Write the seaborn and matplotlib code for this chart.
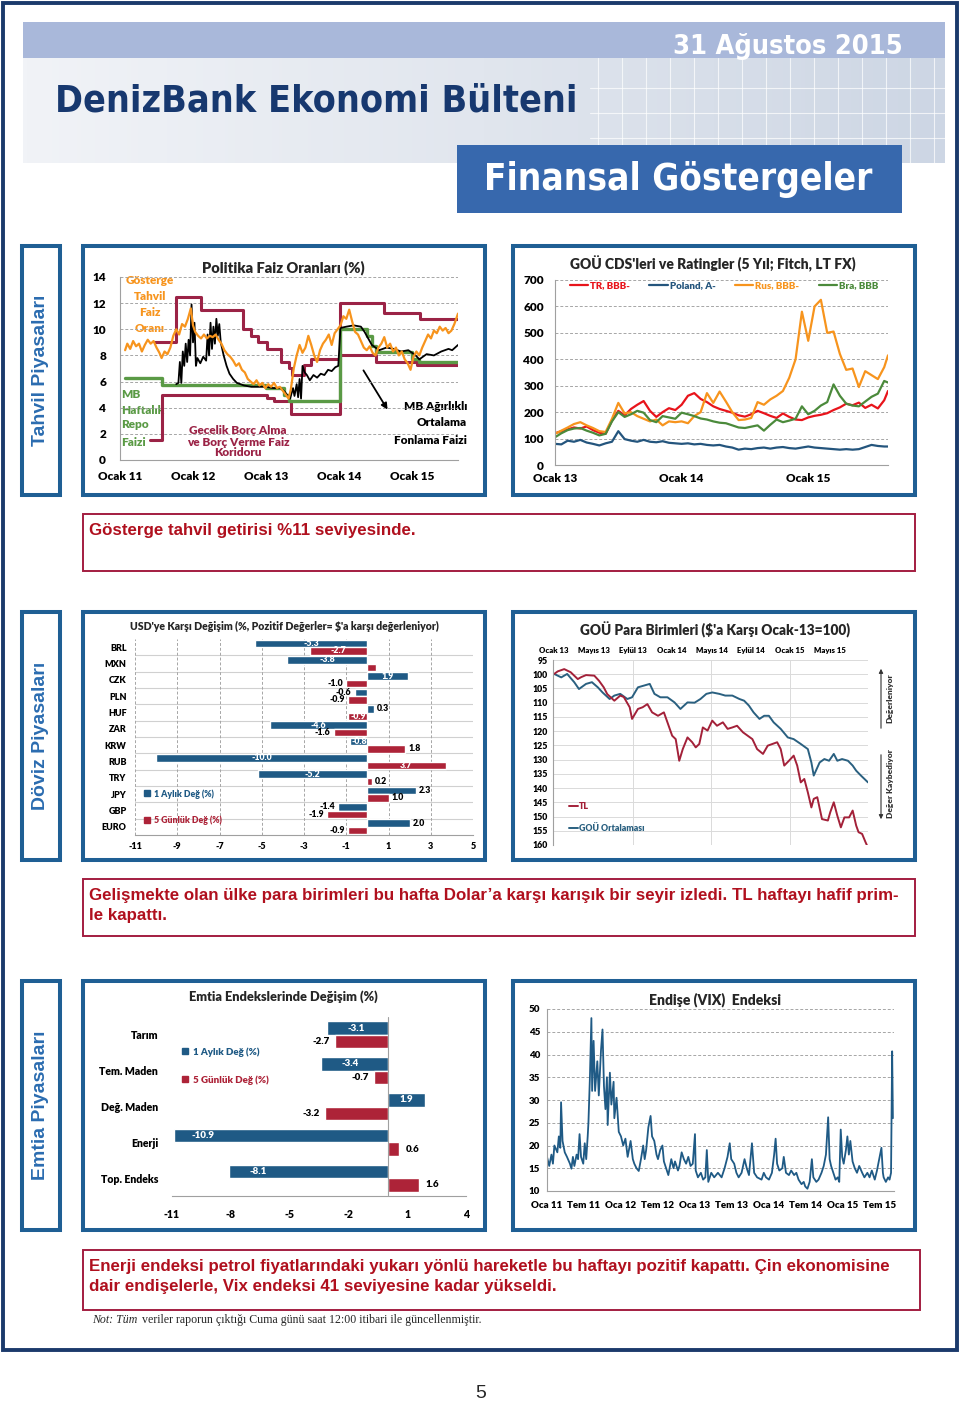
"""DenizBank Ekonomi Bülteni - Finansal Göstergeler page, rebuilt with seaborn."""

import matplotlib
matplotlib.use("Agg")
import matplotlib.pyplot as plt
import numpy as np
import pandas as pd
import seaborn as sns
from matplotlib.colors import LinearSegmentedColormap
from matplotlib.lines import Line2D
from matplotlib.patches import FancyArrowPatch, Rectangle

# ---------------- Politika Faiz Oranları (%) ----------------
BOND_X = [2011.07, 2011.10, 2011.14, 2011.18, 2011.22, 2011.26, 2011.30, 2011.34, 2011.38, 2011.42,
          2011.46, 2011.50, 2011.54, 2011.57, 2011.61, 2011.65, 2011.69, 2011.73, 2011.77, 2011.81,
          2011.85, 2011.89, 2011.93, 2011.97, 2012.00, 2012.03, 2012.07, 2012.11, 2012.15, 2012.19,
          2012.23, 2012.27, 2012.31, 2012.35, 2012.39, 2012.43, 2012.47, 2012.51, 2012.55, 2012.59,
          2012.63, 2012.67, 2012.71, 2012.75, 2012.79, 2012.83, 2012.87, 2012.91, 2012.95, 2012.99,
          2013.03, 2013.07, 2013.11, 2013.15, 2013.19, 2013.23, 2013.27, 2013.31, 2013.34, 2013.38,
          2013.42, 2013.46, 2013.50, 2013.54, 2013.58, 2013.62, 2013.66, 2013.70, 2013.74, 2013.78,
          2013.82, 2013.86, 2013.90, 2013.94, 2013.98, 2014.02, 2014.06, 2014.10, 2014.14, 2014.18,
          2014.22, 2014.26, 2014.30, 2014.34, 2014.38, 2014.42, 2014.46, 2014.50, 2014.54, 2014.58,
          2014.62, 2014.66, 2014.70, 2014.74, 2014.78, 2014.82, 2014.86, 2014.90, 2014.94, 2014.98,
          2015.02, 2015.06, 2015.10, 2015.14, 2015.18, 2015.22, 2015.26, 2015.30, 2015.34, 2015.38,
          2015.42, 2015.46, 2015.50, 2015.54, 2015.58, 2015.63]
BOND_Y = [8.4, 8.9, 8.5, 9.1, 8.7, 8.9, 8.3, 8.8, 9.2, 8.9,
          9.1, 8.6, 8.2, 7.8, 8.3, 8.1, 8.6, 9.5, 10.0, 9.6,
          10.4, 10.2, 10.8, 11.6, 10.3, 9.8, 9.5, 9.3, 9.6, 9.3,
          9.5, 9.4, 9.6, 9.2, 8.9, 8.4, 8.1, 7.9, 7.6, 7.2,
          7.4, 6.9, 6.7, 6.2, 6.0, 5.8, 6.1, 5.7, 5.9, 5.5,
          5.8, 5.6, 5.9, 5.5, 5.6, 5.3, 5.0, 4.7, 5.4, 7.0,
          8.0, 8.8, 8.2, 8.6, 9.5, 8.8, 8.0, 7.5, 8.4, 8.9,
          9.2, 9.6, 8.8, 9.7, 10.0, 10.3, 11.0, 10.8, 11.5, 10.6,
          9.8, 9.6, 9.1, 8.6, 8.4, 8.7, 8.2, 8.0, 8.6, 8.9,
          9.4, 8.6, 8.9, 8.3, 8.6, 8.0, 8.3, 7.7, 7.4, 6.9,
          7.9, 8.3, 8.0, 8.6, 9.1, 9.6, 9.3, 9.9, 9.7, 10.2,
          9.9, 10.1, 9.7, 9.9, 10.4, 11.2]

FUND_X = [2011.77, 2011.80, 2011.82, 2011.84, 2011.86, 2011.88, 2011.90, 2011.92, 2011.94, 2011.96,
          2011.98, 2012.00, 2012.02, 2012.04, 2012.06, 2012.10, 2012.14, 2012.18, 2012.20, 2012.22,
          2012.24, 2012.26, 2012.28, 2012.30, 2012.32, 2012.34, 2012.36, 2012.38, 2012.42, 2012.46,
          2012.50, 2012.55, 2012.60, 2012.65, 2012.70, 2012.80, 2012.90, 2013.00, 2013.10, 2013.20,
          2013.26, 2013.30, 2013.33, 2013.37, 2013.39, 2013.42, 2013.44, 2013.46, 2013.48, 2013.50,
          2013.53, 2013.56, 2013.60, 2013.65, 2013.70, 2013.75, 2013.80, 2013.85, 2013.90, 2013.95,
          2013.99, 2014.02, 2014.10, 2014.20, 2014.30, 2014.35, 2014.45, 2014.55, 2014.65, 2014.75,
          2014.85, 2014.95, 2015.05, 2015.10, 2015.15, 2015.20, 2015.30, 2015.40, 2015.50, 2015.55,
          2015.63]
FUND_Y = [5.8, 5.9, 7.5, 5.9, 8.3, 7.2, 8.9, 7.5, 9.2, 8.0,
          11.9, 9.0, 10.5, 7.2, 7.8, 7.4, 7.9, 7.6, 9.6, 8.0,
          10.5, 8.5, 10.2, 8.9, 10.8, 9.5, 10.4, 9.0, 8.0, 7.2,
          6.6, 6.2, 5.9, 5.8, 5.7, 5.6, 5.6, 5.6, 5.5, 5.5,
          5.2, 4.9, 4.7, 5.5, 4.9, 5.8, 4.8, 6.2, 4.7, 7.2,
          6.7, 6.5, 6.1, 6.5, 6.3, 6.6, 6.5, 6.9, 6.8, 7.1,
          7.2, 10.1, 10.2, 10.3, 10.2, 9.8, 8.8, 8.4, 8.6, 8.5,
          8.3, 8.4, 8.0, 7.7, 7.9, 8.1, 8.0, 8.3, 8.5, 8.4,
          8.8]

REPO_X = [2011.07, 2011.58, 2013.00, 2013.25, 2013.32, 2014.02, 2014.39, 2014.45, 2014.51, 2015.00, 2015.09, 2015.63]
REPO_Y = [6.25, 5.75, 5.5, 5.0, 4.5, 10.0, 9.5, 8.75, 8.25, 7.75, 7.5, 7.5]

UPPER_X = [2011.48, 2011.77, 2012.11, 2012.68, 2012.80, 2012.89, 2013.02, 2013.20, 2013.32, 2013.36,
           2013.52, 2013.61, 2014.02, 2014.61, 2015.11, 2015.63]
UPPER_Y = [9.0, 12.5, 11.5, 10.0, 9.5, 9.0, 8.5, 7.5, 7.0, 6.5,
           7.25, 7.75, 12.0, 11.25, 10.75, 10.75]

LOWER_X = [2011.41, 2011.58, 2013.02, 2013.11, 2013.34, 2014.02, 2014.50, 2015.07, 2015.63]
LOWER_Y = [1.5, 5.0, 4.75, 4.5, 3.5, 8.0, 7.5, 7.25, 7.25]

POLICY_YEARS = [2011, 2012, 2013, 2014, 2015]
POLICY_LABELS = ["Ocak 11", "Ocak 12", "Ocak 13", "Ocak 14", "Ocak 15"]

# ---------------- GOÜ CDS'leri ----------------
CDS_DATES = [2013.00, 2013.05, 2013.10, 2013.15, 2013.20, 2013.25, 2013.30, 2013.35, 2013.40, 2013.45,
             2013.50, 2013.55, 2013.60, 2013.65, 2013.70, 2013.75, 2013.80, 2013.85, 2013.90, 2013.95,
             2014.00, 2014.05, 2014.10, 2014.15, 2014.20, 2014.25, 2014.30, 2014.35, 2014.40, 2014.45,
             2014.50, 2014.55, 2014.60, 2014.65, 2014.70, 2014.75, 2014.80, 2014.85, 2014.90, 2014.95,
             2015.00, 2015.05, 2015.10, 2015.15, 2015.20, 2015.25, 2015.30, 2015.35, 2015.40, 2015.45,
             2015.50, 2015.55, 2015.60, 2015.63]
CDS_TR = [120, 128, 135, 142, 138, 146, 132, 122, 118, 168,
          205, 188, 212, 228, 242, 205, 182, 200, 215, 208,
          228, 262, 272, 250, 238, 222, 212, 205, 198, 188,
          183, 192, 205, 196, 186, 178, 195, 182, 172, 170,
          180, 186, 190, 196, 208, 218, 232, 226, 236, 216,
          228, 214, 245, 280]
CDS_POLAND = [80, 78, 92, 88, 95, 85, 80, 74, 82, 88,
              128, 98, 92, 88, 95, 88, 86, 90, 84, 82,
              80, 82, 78, 80, 76, 74, 76, 70, 66, 58,
              62, 60, 64, 66, 62, 66, 68, 64, 62, 66,
              70, 66, 64, 62, 60, 58, 60, 58, 60, 68,
              76, 72, 70, 70]
CDS_RUS = [118, 130, 142, 155, 162, 150, 140, 128, 125, 175,
           235, 195, 200, 185, 175, 165, 172, 150, 165, 162,
           165, 158, 185, 200, 272, 235, 278, 240, 200, 170,
           172, 178, 238, 228, 248, 262, 280, 330, 400, 580,
           470, 600, 625, 500, 505, 420, 360, 365, 295, 355,
           340, 325, 370, 415]
CDS_BRA = [105, 120, 132, 138, 140, 130, 122, 112, 118, 165,
           200, 182, 192, 205, 198, 170, 162, 185, 180, 175,
           198, 192, 185, 176, 172, 165, 160, 158, 150, 142,
           140, 145, 150, 130, 152, 172, 162, 168, 175, 222,
           192, 205, 225, 238, 305, 262, 232, 225, 222, 240,
           258, 270, 318, 312]
CDS_NAMES = ["TR, BBB-", "Poland, A-", "Rus, BBB-", "Bra, BBB"]
CDS_YEARS = [2013, 2014, 2015]
CDS_LABELS = ["Ocak 13", "Ocak 14", "Ocak 15"]

# ---------------- USD'ye karşı değişim ----------------
CURRENCIES = ["BRL", "MXN", "CZK", "PLN", "HUF", "ZAR", "KRW", "RUB", "TRY", "JPY", "GBP", "EURO"]
FX_MONTH = [-5.3, -3.8, 1.9, -0.6, 0.3, -4.6, -0.8, -10.0, -5.2, 2.3, -1.4, 2.0]
FX_WEEK = [-2.7, 0.4, -1.0, -0.9, -0.9, -1.6, 1.8, 3.7, 0.2, 1.0, -1.9, -0.9]
SERIES = ["1 Aylık Değ (%)", "5 Günlük Değ (%)"]

# ---------------- GOÜ Para Birimleri ----------------
TL_X = [2013.00, 2013.03, 2013.085, 2013.14, 2013.20, 2013.23, 2013.27, 2013.34, 2013.38, 2013.42,
        2013.45, 2013.51, 2013.56, 2013.59, 2013.64, 2013.66, 2013.71, 2013.75, 2013.79, 2013.83,
        2013.88, 2013.93, 2013.96, 2014.00, 2014.03, 2014.06, 2014.09, 2014.13, 2014.17, 2014.20,
        2014.23, 2014.26, 2014.30, 2014.34, 2014.38, 2014.43, 2014.47, 2014.51, 2014.55, 2014.60,
        2014.64, 2014.68, 2014.72, 2014.77, 2014.81, 2014.85, 2014.89, 2014.92, 2014.95, 2014.99,
        2015.03, 2015.06, 2015.09, 2015.12, 2015.15, 2015.18, 2015.20, 2015.23, 2015.27, 2015.32,
        2015.34, 2015.37, 2015.40, 2015.43, 2015.46, 2015.50, 2015.53, 2015.56, 2015.58, 2015.61,
        2015.64, 2015.65]
TL_Y = [99.9, 99.0, 98.2, 99.3, 101.7, 101.0, 100.3, 100.5, 102.3, 104.6,
        107.0, 109.3, 107.5, 108.0, 111.6, 115.7, 112.2, 111.6, 110.5, 113.4,
        114.6, 113.4, 116.9, 121.6, 122.8, 130.4, 126.3, 122.2, 123.9, 125.7,
        124.5, 118.7, 119.8, 116.3, 118.1, 116.9, 119.2, 118.7, 118.1, 120.4,
        121.6, 122.8, 126.3, 128.0, 125.1, 124.5, 123.9, 126.3, 132.1, 130.4,
        128.6, 132.1, 138.0, 136.8, 141.5, 146.8, 143.8, 143.2, 150.9, 151.4,
        148.5, 145.0, 149.7, 153.8, 150.3, 150.3, 147.9, 153.2, 155.5, 156.1,
        159.1, 160.0]
EM_X = [2013.00, 2013.06, 2013.11, 2013.17, 2013.21, 2013.27, 2013.32, 2013.37, 2013.41, 2013.47,
        2013.51, 2013.56, 2013.62, 2013.66, 2013.71, 2013.76, 2013.81, 2013.85, 2013.90, 2013.96,
        2014.02, 2014.07, 2014.13, 2014.19, 2014.24, 2014.29, 2014.34, 2014.40, 2014.45, 2014.51,
        2014.57, 2014.61, 2014.65, 2014.69, 2014.74, 2014.78, 2014.82, 2014.86, 2014.92, 2014.98,
        2015.03, 2015.09, 2015.15, 2015.18, 2015.20, 2015.25, 2015.29, 2015.33, 2015.37, 2015.40,
        2015.44, 2015.49, 2015.53, 2015.56, 2015.60, 2015.63, 2015.66]
EM_Y = [99.9, 101.1, 99.9, 102.8, 105.2, 103.4, 102.8, 104.6, 106.4, 108.7,
        107.5, 106.9, 108.7, 108.1, 104.6, 104.0, 103.4, 106.9, 108.1, 108.1,
        109.9, 112.2, 109.9, 110.0, 108.7, 106.9, 106.4, 106.9, 107.5, 107.5,
        108.7, 109.3, 111.0, 113.4, 115.7, 114.6, 114.6, 116.9, 119.2, 122.2,
        122.8, 124.5, 126.3, 131.0, 135.6, 131.0, 129.8, 130.4, 128.0, 130.4,
        129.8, 130.4, 132.1, 133.9, 135.6, 136.8, 138.0]
FX_MONTHS = ["Ocak 13", "Mayıs 13", "Eylül 13", "Ocak 14", "Mayıs 14", "Eylül 14", "Ocak 15", "Mayıs 15"]

# ---------------- Emtia Endeksleri ----------------
COMMODITIES = ["Tarım", "Tem. Maden", "Değ. Maden", "Enerji", "Top. Endeks"]
COM_MONTH = [-3.1, -3.4, 1.9, -10.9, -8.1]
COM_WEEK = [-2.7, -0.7, -3.2, 0.6, 1.6]

# ---------------- VIX ----------------
VIX_X = [2011.00, 2011.03, 2011.06, 2011.08, 2011.10, 2011.14, 2011.16, 2011.18, 2011.19, 2011.21,
         2011.24, 2011.27, 2011.31, 2011.33, 2011.35, 2011.37, 2011.40, 2011.42, 2011.44, 2011.46,
         2011.49, 2011.51, 2011.53, 2011.55, 2011.56, 2011.58, 2011.60, 2011.61, 2011.63, 2011.65,
         2011.68, 2011.70, 2011.73, 2011.75, 2011.77, 2011.79, 2011.81, 2011.82, 2011.85, 2011.87,
         2011.90, 2011.91, 2011.94, 2011.97, 2012.00, 2012.03, 2012.06, 2012.09, 2012.13, 2012.16,
         2012.18, 2012.21, 2012.24, 2012.27, 2012.30, 2012.32, 2012.34, 2012.37, 2012.40, 2012.42,
         2012.45, 2012.48, 2012.50, 2012.53, 2012.56, 2012.58, 2012.61, 2012.64, 2012.68, 2012.71,
         2012.73, 2012.77, 2012.79, 2012.82, 2012.85, 2012.88, 2012.91, 2012.94, 2012.97, 2013.00,
         2013.01, 2013.04, 2013.08, 2013.11, 2013.14, 2013.16, 2013.18, 2013.22, 2013.26, 2013.31,
         2013.36, 2013.40, 2013.44, 2013.47, 2013.49, 2013.53, 2013.56, 2013.59, 2013.63, 2013.67,
         2013.70, 2013.73, 2013.77, 2013.80, 2013.84, 2013.90, 2013.93, 2013.96, 2014.00, 2014.04,
         2014.07, 2014.09, 2014.11, 2014.14, 2014.18, 2014.20, 2014.23, 2014.27, 2014.30, 2014.34,
         2014.37, 2014.40, 2014.44, 2014.47, 2014.49, 2014.52, 2014.55, 2014.58, 2014.60, 2014.64,
         2014.67, 2014.71, 2014.74, 2014.77, 2014.80, 2014.82, 2014.84, 2014.87, 2014.90, 2014.93,
         2014.95, 2014.97, 2014.99, 2015.01, 2015.04, 2015.06, 2015.08, 2015.10, 2015.13, 2015.16,
         2015.19, 2015.22, 2015.26, 2015.29, 2015.33, 2015.36, 2015.39, 2015.43, 2015.46, 2015.49,
         2015.52, 2015.54, 2015.55, 2015.58, 2015.61, 2015.63, 2015.65, 2015.665, 2015.675]
VIX_Y = [17.5, 15.5, 18.0, 16.0, 20.0, 18.5, 22.0, 19.5, 29.5, 21.0,
         18.5, 17.5, 16.0, 14.9, 17.5, 15.5, 18.0, 17.0, 22.5, 17.5,
         16.0, 20.5, 17.0, 22.0, 25.0, 35.0, 48.0, 32.0, 43.0, 32.0,
         38.5, 31.0, 41.0, 45.5, 33.0, 28.0, 35.0, 24.5, 36.0, 29.0,
         34.0, 26.0, 30.5, 23.0, 22.0, 20.0, 21.5, 17.5, 21.0, 17.0,
         16.0, 15.0, 14.4, 17.0, 20.0, 17.0, 19.0, 24.0, 26.5, 22.0,
         21.0, 18.0, 17.0, 19.0, 20.0, 16.5, 15.0, 13.5, 17.0, 15.0,
         16.5, 14.5, 15.5, 18.5, 17.0, 16.0, 17.5, 15.5, 16.0, 22.5,
         14.5, 13.0, 14.0, 12.5, 13.0, 19.0, 12.0, 14.0, 13.0, 14.0,
         13.0, 15.0, 17.5, 20.5, 17.0, 16.0, 14.0, 13.0, 14.0, 17.0,
         15.0, 13.5, 20.5, 14.0, 13.0, 12.5, 14.0, 13.0, 12.5, 14.0,
         18.0, 21.5, 16.0, 14.5, 15.0, 17.5, 14.0, 13.5, 14.5, 13.5,
         14.0, 12.5, 11.5, 12.0, 11.0, 10.5, 12.0, 17.0, 13.0, 12.0,
         12.5, 14.0, 15.5, 18.0, 26.2, 17.0, 15.5, 14.0, 12.5, 13.0,
         12.0, 23.5, 17.5, 16.0, 19.0, 22.0, 18.0, 21.0, 16.5, 15.0,
         14.0, 15.5, 14.0, 13.0, 14.0, 13.0, 14.5, 12.5, 14.5, 17.0,
         19.5, 14.0, 13.0, 12.0, 13.0, 12.5, 14.0, 40.7, 26.0]
VIX_TICKS = [2011.0, 2011.5, 2012.0, 2012.5, 2013.0, 2013.5, 2014.0, 2014.5, 2015.0, 2015.5]
VIX_LABELS = ["Oca 11", "Tem 11", "Oca 12", "Tem 12", "Oca 13", "Tem 13", "Oca 14", "Tem 14", "Oca 15", "Tem 15"]

# ---------------- page texts ----------------
SECTIONS = ["Tahvil Piyasaları", "Döviz Piyasaları", "Emtia Piyasaları"]
COMMENTS = [
    "Gösterge tahvil getirisi %11 seviyesinde.",
    "Gelişmekte olan ülke para birimleri bu hafta Dolar’a karşı karışık bir seyir izledi. TL haftayı hafif prim-\nle kapattı.",
    "Enerji endeksi petrol fiyatlarındaki yukarı yönlü hareketle bu haftayı pozitif kapattı. Çin ekonomisine\ndair endişelerle, Vix endeksi 41 seviyesine kadar yükseldi.",
]

# colours
NAVY = "#1b3a6b"
BOX = "#1f5f94"
SIDE_TXT = "#2b6cb0"
TXT_RED = "#b0101e"
BORDER_RED = "#a31d40"
BAR_BLUE = "#1f5a85"
BAR_RED = "#ad2338"
GRID = "#a6a6a6"
AXC = "#a0a0a0"

W, H = 960, 1403
sns.set_theme(style="white")
plt.rcParams["font.family"] = ["Lato", "DejaVu Sans"]
plt.rcParams["font.weight"] = "heavy"
plt.rcParams["axes.unicode_minus"] = False
NARROW = ["Liberation Sans Narrow", "Liberation Sans"]

fig = plt.figure(figsize=(W / 100, H / 100), dpi=100)
fig.patch.set_facecolor("white")
bg = fig.add_axes([0, 0, 1, 1])
bg.set_xlim(0, W)
bg.set_ylim(H, 0)
bg.axis("off")


def rect(x0, y0, x1, y1, ec="none", lw=0, fc="none", z=1):
    bg.add_patch(Rectangle((x0, y0), x1 - x0, y1 - y0, ec=ec, lw=lw, fc=fc, zorder=z))


def px_axes(x0, y0, x1, y1):
    ax = fig.add_axes([x0 / W, 1 - y1 / H, (x1 - x0) / W, (y1 - y0) / H])
    ax.set_facecolor("none")
    return ax


def excel_axes(ax, fs, left=True, bottom=True):
    for side in ["top", "right"]:
        ax.spines[side].set_visible(False)
    ax.spines["left"].set_visible(left)
    ax.spines["bottom"].set_visible(bottom)
    for side in ["left", "bottom"]:
        ax.spines[side].set_color(AXC)
        ax.spines[side].set_linewidth(0.8)
    ax.tick_params(labelsize=fs, length=0, labelcolor="black")
    ax.set_xlabel("")
    ax.set_ylabel("")


def hgrid(ax):
    ax.yaxis.grid(True, linestyle=(0, (3, 2)), color=GRID, linewidth=0.7)
    ax.set_axisbelow(True)


# ---------------- page frame and header ----------------
rect(3, 3, 957, 1350, ec=NAVY, lw=2.8)
grad = np.linspace(0, 1, 256).reshape(1, -1)
head_cmap = LinearSegmentedColormap.from_list("head", ["#f1f3f7", "#e1e6ee", "#cdd6e4"])
bg.imshow(grad, extent=(23, 945, 163, 58), aspect="auto", cmap=head_cmap, zorder=0)
bg.set_xlim(0, W)
bg.set_ylim(H, 0)
rect(23, 22, 945, 58, fc="#a9b8da")
for gx in range(598, 945, 24):
    bg.plot([gx, gx], [58, 163], color="white", lw=0.8, alpha=0.7, zorder=1)
for gy in [88, 113, 138]:
    bg.plot([590, 945], [gy, gy], color="white", lw=0.8, alpha=0.7, zorder=1)
HEAD = dict(family="DejaVu Sans", fontstretch="condensed", weight="bold", zorder=3)
bg.text(903, 47, "31 Ağustos 2015", color="white", fontsize=19.5, ha="right", va="center", **HEAD)
bg.text(55, 101, "DenizBank Ekonomi Bülteni", color="#17386f", fontsize=27, ha="left", va="center", **HEAD)
rect(457, 145, 902, 213, fc="#3768ad", z=2)
bg.text(678, 180, "Finansal Göstergeler", color="white", fontsize=26.5, ha="center", va="center", **HEAD)

# ---------------- section frames ----------------
SECTION_Y = [(246, 495), (612, 860), (981, 1230)]
COMMENT_Y = [(514, 571), (879, 936), (1250, 1310)]
for (y0, y1), name in zip(SECTION_Y, SECTIONS):
    rect(22, y0, 60, y1, ec=BOX, lw=2.9)
    rect(83, y0, 485, y1, ec=BOX, lw=2.9)
    rect(513, y0, 915, y1, ec=BOX, lw=2.9)
    bg.text(41, (y0 + y1) / 2, name, rotation=90, ha="center", va="center", color=SIDE_TXT,
            fontsize=14, weight="bold", family=["Liberation Sans", "DejaVu Sans"])
for (y0, y1), msg in zip(COMMENT_Y, COMMENTS):
    rect(83, y0, 915 if y0 < 1000 else 920, y1, ec=BORDER_RED, lw=1.4)
    bg.text(89, y0 + 9, msg, ha="left", va="top", color=TXT_RED, fontsize=12.2, weight="bold",
            family=NARROW, linespacing=1.42)

NOTE = dict(va="center", fontsize=8.6, weight="normal", family=["Liberation Serif", "DejaVu Serif"])
bg.text(92, 1320, "Not: Tüm", ha="left", style="italic", **NOTE)
bg.text(142, 1320, "veriler raporun çıktığı Cuma günü saat 12:00 itibari ile güncellenmiştir.", ha="left", **NOTE)
bg.text(481, 1394, "5", ha="center", va="center", fontsize=14, weight="normal", family=NARROW)

# ---------------- chart 1: Politika Faiz Oranları ----------------
ORANGE, GREEN, CORRIDOR = "#f7941d", "#5a9a45", "#9b2346"
ax = px_axes(120, 277, 458, 460)
for xs, ys in [(UPPER_X, UPPER_Y), (LOWER_X, LOWER_Y)]:
    sns.lineplot(x=xs, y=ys, color=CORRIDOR, linewidth=2.2, drawstyle="steps-post",
                 estimator=None, sort=False, ax=ax)
sns.lineplot(x=REPO_X, y=REPO_Y, color=GREEN, linewidth=2.4, drawstyle="steps-post",
             estimator=None, sort=False, ax=ax)
sns.lineplot(x=FUND_X, y=FUND_Y, color="black", linewidth=1.3, estimator=None, sort=False, ax=ax)
sns.lineplot(x=BOND_X, y=BOND_Y, color=ORANGE, linewidth=1.6, estimator=None, sort=False, ax=ax)
ax.set_xlim(2011, 2015.63)
ax.set_ylim(0, 14)
ax.set_yticks(range(0, 15, 2))
ax.set_xticks(POLICY_YEARS)
ax.set_xticklabels(POLICY_LABELS)
excel_axes(ax, 8.5)
ax.tick_params(axis="y", pad=10)
ax.tick_params(axis="x", pad=8)
hgrid(ax)
bg.text(283, 268, "Politika Faiz Oranları (%)", ha="center", va="center", fontsize=10.5)
for txt, yy in zip(["Gösterge", "Tahvil", "Faiz", "Oranı"], [280, 296, 312, 329]):
    bg.text(150, yy, txt, color=ORANGE, fontsize=8.5, ha="center", va="center")
for txt, yy in zip(["MB", "Haftalık", "Repo", "Faizi"], [394, 410, 425, 442]):
    bg.text(121, yy, txt, color=GREEN, fontsize=8.5, ha="left", va="center")
for txt, yy in zip(["Gecelik Borç Alma", "ve Borç Verme Faiz", "Koridoru"], [431, 443, 453]):
    bg.text(238, yy, txt, color=CORRIDOR, fontsize=8.5, ha="center", va="center")
for txt, yy in zip(["MB Ağırlıklı", "Ortalama", "Fonlama Faizi"], [407, 423, 440]):
    bg.text(467, yy, txt, color="black", fontsize=8.5, ha="right", va="center")
bg.add_patch(FancyArrowPatch((362, 368), (389, 412), arrowstyle="-|>", mutation_scale=9,
                             color="black", lw=1.3, zorder=5))

# ---------------- chart 2: CDS ----------------
CDS_COLORS = ["#e8141b", "#24557d", "#f7941d", "#4b8a3b"]
ax = px_axes(555, 280, 888, 465)
for name, ys, col in zip(CDS_NAMES, [CDS_TR, CDS_POLAND, CDS_RUS, CDS_BRA], CDS_COLORS):
    sns.lineplot(x=CDS_DATES, y=ys, color=col, linewidth=1.6, label=name, estimator=None, sort=False, ax=ax)
ax.set_xlim(2013, 2015.63)
ax.set_ylim(0, 700)
ax.set_yticks(range(0, 701, 100))
ax.set_xticks(CDS_YEARS)
ax.set_xticklabels(CDS_LABELS)
excel_axes(ax, 8.5)
ax.tick_params(axis="x", length=3, color=AXC, pad=3)
ax.tick_params(axis="y", pad=8)
hgrid(ax)
ax.legend(loc="center", bbox_to_anchor=(724, 286), bbox_transform=bg.transData, ncol=4, frameon=False,
          fontsize=7, labelcolor=CDS_COLORS, handlelength=1.9, handletextpad=0.2, columnspacing=2.0)
bg.text(713, 264, "GOÜ CDS'leri ve Ratingler (5 Yıl; Fitch, LT FX)", ha="center", va="center", fontsize=10)


# ---------------- bar chart helper ----------------
def bar_chart(box, cats, month, week, width, fs):
    df = pd.DataFrame({"kat": cats * 2, "deg": month + week,
                       "seri": [SERIES[0]] * len(cats) + [SERIES[1]] * len(cats)})
    ax = px_axes(*box)
    sns.barplot(data=df, x="deg", y="kat", hue="seri", orient="h", palette=[BAR_BLUE, BAR_RED],
                width=width, saturation=1, legend=False, ax=ax)
    excel_axes(ax, fs)
    return ax


def legend_box(ax, x, y, fs, spacing):
    handles = [Line2D([0], [0], marker="s", linestyle="", color=c, markersize=4.5) for c in (BAR_BLUE, BAR_RED)]
    ax.legend(handles, SERIES, loc="upper left", bbox_to_anchor=(x, y), bbox_transform=bg.transData,
              frameon=False, fontsize=fs, labelcolor=[BAR_BLUE, BAR_RED], handlelength=0.8,
              handletextpad=0.4, labelspacing=spacing, borderpad=0, borderaxespad=0)


# ---------------- chart 3: USD'ye karşı değişim ----------------
INSIDE_FX = {("CZK", 0), ("KRW", 0), ("HUF", 1)}
NO_LABEL_FX = {("MXN", 1)}
ax = bar_chart((135, 639, 473, 835), CURRENCIES, FX_MONTH, FX_WEEK, 0.92, 6.5)
ax.set_xlim(-11, 5)
ax.set_xticks(range(-11, 6, 2))
ax.xaxis.grid(True, linestyle=(0, (3, 2)), color=GRID, linewidth=0.7)
ax.set_axisbelow(True)
for k in range(len(CURRENCIES) - 1):
    ax.axhline(k + 0.5, color="#d0d0d0", linewidth=0.8, zorder=0)
ax.spines["left"].set_visible(False)
ax.tick_params(axis="y", pad=6)
ax.tick_params(axis="x", pad=5)
for si, (cont, vals) in enumerate(zip(ax.containers, [FX_MONTH, FX_WEEK])):
    for cat, bar, v in zip(CURRENCIES, cont, vals):
        if (cat, si) in NO_LABEL_FX:
            continue
        cy = bar.get_y() + bar.get_height() / 2
        if abs(v) >= 2.5 or (cat, si) in INSIDE_FX:
            ax.text(v / 2, cy, f"{v:.1f}", color="white", ha="center", va="center", fontsize=6.3)
        else:
            off = 0.15 if v >= 0 else -0.15
            ax.text(v + off, cy, f"{v:.1f}", color="black", ha="left" if v >= 0 else "right",
                    va="center", fontsize=6.3)
legend_box(ax, 143, 789, 6.3, 1.9)
bg.text(284, 626, "USD'ye Karşı Değişim (%, Pozitif Değerler= $'a karşı değerleniyor)",
        ha="center", va="center", fontsize=7.6)

# ---------------- chart 4: GOÜ para birimleri ----------------
TL_RED, EM_BLUE = "#a32139", "#2a6080"
ax = px_axes(553, 660, 868, 845)
sns.lineplot(x=EM_X, y=EM_Y, color=EM_BLUE, linewidth=1.4, label="GOÜ Ortalaması", estimator=None, sort=False, ax=ax)
sns.lineplot(x=TL_X, y=TL_Y, color=TL_RED, linewidth=1.4, label="TL", estimator=None, sort=False, ax=ax)
ax.set_xlim(2012.99, 2015.66)
ax.set_ylim(160, 95)
ax.set_yticks(range(95, 161, 5))
ax.set_xticks([2013 + 4 * k / 12 for k in range(len(FX_MONTHS))])
ax.set_xticklabels(FX_MONTHS)
ax.xaxis.tick_top()
excel_axes(ax, 6.3, bottom=False)
ax.tick_params(axis="x", labelsize=5.6, pad=4)
ax.tick_params(axis="y", pad=4)
ax.yaxis.grid(True, color="#dadada", linewidth=0.7)
ax.set_axisbelow(True)
for xv in [2013 + 8 / 12, 2014 + 4 / 12, 2015.0]:
    ax.axvline(xv, color="#dadada", linewidth=0.7, zorder=0)
handles, labels = ax.get_legend_handles_labels()
ax.legend(handles[::-1], labels[::-1], loc="upper left", bbox_to_anchor=(569, 802), bbox_transform=bg.transData,
          frameon=False, fontsize=6.3, labelcolor=[TL_RED, EM_BLUE], handlelength=1.0, handletextpad=0.1,
          labelspacing=1.5, borderpad=0, borderaxespad=0)
bg.text(715, 630, "GOÜ Para Birimleri ($'a Karşı Ocak-13=100)", ha="center", va="center", fontsize=9.8)
bg.add_patch(FancyArrowPatch((881, 731), (881, 666), arrowstyle="-|>", mutation_scale=6, color="#333333", lw=0.8))
bg.add_patch(FancyArrowPatch((881, 752), (881, 822), arrowstyle="-|>", mutation_scale=6, color="#333333", lw=0.8))
bg.text(890, 698, "Değerleniyor", rotation=90, ha="center", va="center", fontsize=6, color="#333333")
bg.text(890, 784, "Değer Kaybediyor", rotation=90, ha="center", va="center", fontsize=6, color="#333333")

# ---------------- chart 5: Emtia ----------------
ax = bar_chart((172, 1017, 466, 1196), COMMODITIES, COM_MONTH, COM_WEEK, 0.75, 7.6)
ax.set_xlim(-11, 4)
ax.set_xticks(range(-11, 5, 3))
ax.spines["left"].set_visible(False)
ax.axvline(0, color=AXC, linewidth=0.8)
ax.tick_params(axis="x", length=3, color=AXC, pad=6)
ax.tick_params(axis="y", pad=10)
for si, (cont, vals) in enumerate(zip(ax.containers, [COM_MONTH, COM_WEEK])):
    for bar, v in zip(cont, vals):
        cy = bar.get_y() + bar.get_height() / 2
        if si == 0:
            pos = np.sign(v) * max(abs(v) - 1.5, abs(v) / 2)
            ax.text(pos, cy, f"{v:.1f}", color="white", ha="center", va="center", fontsize=7)
        else:
            off = 0.35 if v >= 0 else -0.25
            ax.text(v + off, cy, f"{v:.1f}", color="black", ha="left" if v >= 0 else "right",
                    va="center", fontsize=7)
legend_box(ax, 181, 1047, 7, 1.9)
bg.text(283, 997, "Emtia Endekslerinde Değişim (%)", ha="center", va="center", fontsize=9.2)

# ---------------- chart 6: VIX ----------------
ax = px_axes(547, 1009, 894, 1191)
sns.lineplot(x=VIX_X, y=VIX_Y, color=BAR_BLUE, linewidth=1.3, estimator=None, sort=False, ax=ax)
ax.set_xlim(2011.0, 2015.69)
ax.set_ylim(10, 50)
ax.set_yticks(range(10, 51, 5))
ax.set_xticks(VIX_TICKS)
ax.set_xticklabels(VIX_LABELS)
excel_axes(ax, 7)
ax.tick_params(axis="x", length=3, color=AXC, pad=4)
ax.tick_params(axis="y", pad=5)
hgrid(ax)
bg.text(715, 1000, "Endişe (VIX)  Endeksi", ha="center", va="center", fontsize=10)

fig.savefig("out.png", dpi=100)
